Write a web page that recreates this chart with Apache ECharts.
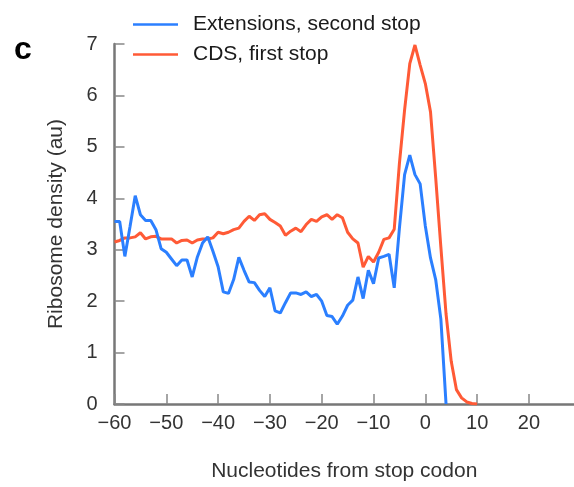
<!DOCTYPE html>
<html>
<head>
<meta charset="utf-8">
<script src="https://cdn.jsdelivr.net/npm/echarts@6/dist/echarts.min.js"></script>
<style>
html,body{margin:0;padding:0;background:#fff;}
#chart{width:574px;height:487px;}
</style>
</head>
<body>
<div id="chart"></div>
<script>
const redPositions = [-60,-59,-58,-57,-56,-55,-54,-53,-52,-51,-50,-49,-48,-47,-46,-45,-44,-43,-42,-41,-40,-39,-38,-37,-36,-35,-34,-33,-32,-31,-30,-29,-28,-27,-26,-25,-24,-23,-22,-21,-20,-19,-18,-17,-16,-15,-14,-13,-12,-11,-10,-9,-8,-7,-6,-5,-4,-3,-2,-1,0,1,2,3,4,5,6,7,8,9,10];
const cdsFirstStop = [3.15,3.18,3.23,3.23,3.25,3.33,3.21,3.25,3.26,3.21,3.21,3.21,3.13,3.18,3.19,3.13,3.19,3.21,3.21,3.23,3.34,3.31,3.34,3.39,3.42,3.55,3.65,3.57,3.68,3.70,3.59,3.53,3.46,3.28,3.36,3.42,3.35,3.49,3.59,3.55,3.64,3.68,3.59,3.68,3.62,3.34,3.21,3.13,2.66,2.87,2.76,2.95,3.20,3.23,3.40,4.68,5.72,6.62,6.98,6.59,6.23,5.68,4.40,3.05,1.75,0.83,0.28,0.12,0.04,0.01,0];
const bluePositions = [-60,-59,-58,-57,-56,-55,-54,-53,-52,-51,-50,-49,-48,-47,-46,-45,-44,-43,-42,-41,-40,-39,-38,-37,-36,-35,-34,-33,-32,-31,-30,-29,-28,-27,-26,-25,-24,-23,-22,-21,-20,-19,-18,-17,-16,-15,-14,-13,-12,-11,-10,-9,-8,-7,-6,-5,-4,-3,-2,-1,0,1,2,3,4];
const extSecondStop = [3.55,3.55,2.87,3.45,4.05,3.68,3.57,3.57,3.39,3.02,2.95,2.82,2.69,2.80,2.80,2.47,2.86,3.13,3.25,2.97,2.67,2.18,2.15,2.42,2.85,2.60,2.37,2.36,2.21,2.09,2.26,1.81,1.77,1.97,2.16,2.16,2.13,2.18,2.09,2.13,2.00,1.72,1.70,1.55,1.71,1.92,2.02,2.47,2.05,2.60,2.34,2.84,2.87,2.91,2.26,3.42,4.46,4.84,4.46,4.28,3.46,2.84,2.42,1.65,0];
const xTicks = [-60,-50,-40,-30,-20,-10,0,10,20];
const yTicks = [0,1,2,3,4,5,6,7];

const FONT = '"Liberation Sans", Arial, sans-serif';
const blue = '#2b7fff';
const red = '#ff5a36';

const chart = echarts.init(document.getElementById('chart'), null, {renderer:'canvas'});
chart.setOption({
  animation:false,
  backgroundColor:'#fff',
  textStyle:{fontFamily:FONT},
  grid:{left:114.5, right:0, top:44, bottom:82, containLabel:false},
  legend:{
    orient:'vertical', left:128, top:9, itemWidth:45, itemHeight:2.5, itemGap:9,
    icon:'rect',
    data:[
      {name:'Extensions, second stop', itemStyle:{color:blue}},
      {name:'CDS, first stop', itemStyle:{color:red}}
    ],
    itemStyle:{borderWidth:0},
    textStyle:{fontSize:21, color:'#1a1a1a', fontFamily:FONT, padding:[0,0,0,10], lineHeight:21}
  },
  graphic:[{
    type:'text', left:14, top:34,
    style:{text:'c', font:'bold 32px "Liberation Sans", Arial, sans-serif', fill:'#000'}
  }],
  xAxis:{
    type:'value', min:xTicks[0], max:28.7, interval:10,
    name:'Nucleotides from stop codon', nameLocation:'middle', nameGap:57,
    nameTextStyle:{fontSize:21, color:'#333', fontFamily:FONT},
    axisLine:{show:true, onZero:false, lineStyle:{color:'#777', width:2.5}},
    axisTick:{show:true, inside:true, length:10, lineStyle:{color:'#888', width:1.5}},
    axisLabel:{fontSize:20, color:'#333', margin:9, showMaxLabel:false, fontFamily:FONT,
      formatter:v => (xTicks.indexOf(v) < 0 ? '' : (v < 0 ? '\u2212' + Math.abs(v) : String(v)))},
    splitLine:{show:false}
  },
  yAxis:{
    type:'value', min:yTicks[0], max:yTicks[yTicks.length-1], interval:1,
    name:'Ribosome density (au)', nameLocation:'middle', nameGap:48, nameRotate:90,
    nameTextStyle:{fontSize:21, color:'#333', fontFamily:FONT},
    axisLine:{show:true, onZero:false, lineStyle:{color:'#777', width:2.5}},
    axisTick:{show:true, inside:true, length:10, lineStyle:{color:'#888', width:1.5}},
    axisLabel:{fontSize:20, color:'#333', margin:17, fontFamily:FONT},
    splitLine:{show:false}
  },
  series:[
    {
      name:'Extensions, second stop', type:'line', symbol:'none', smooth:false,
      lineStyle:{color:blue, width:3}, itemStyle:{color:blue},
      data: bluePositions.map((x,i)=>[x, extSecondStop[i]]), z:3
    },
    {
      name:'CDS, first stop', type:'line', symbol:'none', smooth:false,
      lineStyle:{color:red, width:3}, itemStyle:{color:red},
      data: redPositions.map((x,i)=>[x, cdsFirstStop[i]]), z:2
    }
  ]
});
</script>
</body>
</html>
